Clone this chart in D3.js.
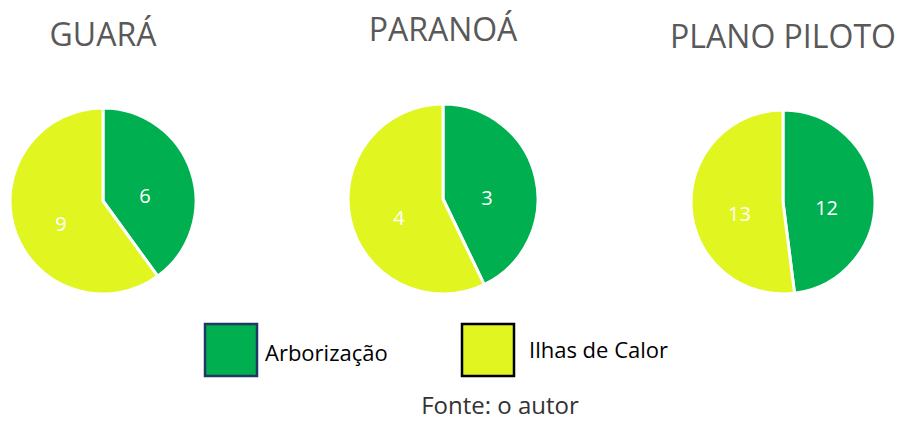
<!DOCTYPE html>
<html>
<head>
<meta charset="utf-8">
<script src="https://cdn.jsdelivr.net/npm/d3@7"></script>
<style>
body { margin: 0; background: #fff; }
svg text { font-family: "Open Sans", "Noto Sans", sans-serif; }
</style>
</head>
<body>
<div id="content"></div>
<script>
// data
var regions = ["GUARÁ", "PARANOÁ", "PLANO PILOTO"];
var categories = ["Arborização", "Ilhas de Calor"];
var arborizacao = [6, 3, 12];
var ilhas = [9, 4, 13];
var colors = ["#00B050", "#E1F521"];

var W = 897, H = 421;
var svg = d3.select("#content").append("svg")
	.attr("width", W)
	.attr("height", H);

// layout of each pie
var cx = [103, 443, 783];
var cy = [201, 199, 202];
var rad = [93, 95, 92];
var titleY = [46, 41, 48];

var pie = d3.pie().sort(null).value(function(d){ return d; });

for (var i = 0; i < regions.length; i++){
	var vals = [arborizacao[i], ilhas[i]];
	var g = svg.append("g").attr("transform", "translate(" + cx[i] + "," + cy[i] + ")");
	var arc = d3.arc().innerRadius(0).outerRadius(rad[i]);
	var labelArc = d3.arc().innerRadius(0).outerRadius(rad[i]*0.95);
	var arcs = pie(vals);

	g.selectAll("path").data(arcs).enter().append("path")
		.attr("d", arc)
		.attr("fill", function(d, k){ return colors[k]; })
		.attr("stroke", "#fff")
		.attr("stroke-width", 3)
		.attr("stroke-linejoin", "round");

	g.selectAll("text.lbl").data(arcs).enter().append("text")
		.attr("class", "lbl")
		.attr("x", function(d){ return labelArc.centroid(d)[0]; })
		.attr("y", function(d){ return labelArc.centroid(d)[1] + 16; })
		.attr("text-anchor", "middle")
		.attr("fill", "#fff")
		.attr("font-size", 20)
		.text(function(d){ return d.value; });

	svg.append("text")
		.attr("x", cx[i])
		.attr("y", titleY[i])
		.attr("text-anchor", "middle")
		.attr("fill", "#595959")
		.attr("font-size", 32)
		.text(regions[i]);
}

// legend
var legX = [204, 461];
var legStroke = ["#1F3864", "#000"];
for (var k = 0; k < categories.length; k++){
	svg.append("rect")
		.attr("x", legX[k] + 1)
		.attr("y", 324)
		.attr("width", 52)
		.attr("height", 52)
		.attr("fill", colors[k])
		.attr("stroke", legStroke[k])
		.attr("stroke-width", 2.5);
	svg.append("text")
		.attr("x", legX[k] + (k == 0 ? 61 : 68))
		.attr("y", k == 0 ? 361 : 358)
		.attr("fill", "#000")
		.attr("font-size", 22)
		.text(categories[k]);
}

svg.append("text")
	.attr("x", 500)
	.attr("y", 414)
	.attr("text-anchor", "middle")
	.attr("fill", "#333")
	.attr("font-size", 24)
	.text("Fonte: o autor");
</script>
</body>
</html>
